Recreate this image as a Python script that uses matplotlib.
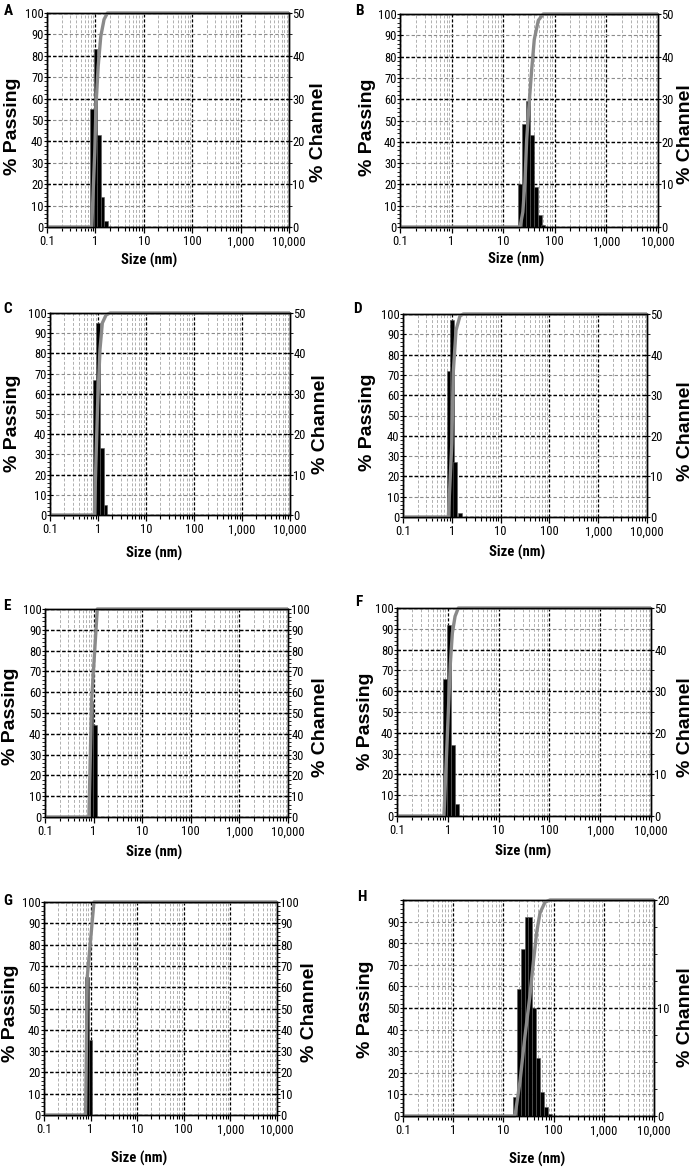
import matplotlib
matplotlib.use("Agg")
import numpy as np
import matplotlib.pyplot as plt
from matplotlib import font_manager
from matplotlib.ticker import FixedLocator, FixedFormatter, MultipleLocator, NullFormatter

# ---- data ----
# bars: channel centre size (nm) and % channel
A_size = [0.86, 1.0, 1.18, 1.4, 1.67]
A_channel = [27.5, 41.5, 21.5, 7.0, 1.5]
A_pass_size = [0.1, 0.84, 0.97, 1.03, 1.14, 1.29, 1.51, 1.77, 10000]
A_passing = [0, 0, 35, 57, 75, 89, 97, 100, 100]

B_size = [21.5, 25.6, 30.4, 36.2, 43.0, 51.0, 60.0]
B_channel = [10, 24.25, 29.5, 21.5, 9.5, 2.75, 0.5]
B_pass_size = [0.1, 21.2, 24, 26.4, 28.5, 32, 35.7, 40, 47.9, 59.8, 10000]
B_passing = [0, 0, 7, 21, 41, 59, 74, 88, 97, 100, 100]

C_size = [0.85, 1.01, 1.2, 1.43]
C_channel = [33.5, 47.5, 16.5, 2.5]
C_pass_size = [0.1, 0.84, 0.98, 1.1, 1.23, 1.47, 1.78, 10000]
C_passing = [0, 0, 54, 82, 95, 99, 100, 100]

D_size = [0.86, 1.01, 1.18, 1.45]
D_channel = [36, 48.5, 13.5, 1]
D_pass_size = [0.1, 0.85, 1.0, 1.07, 1.22, 1.47, 1.72, 10000]
D_passing = [0, 0, 36, 71, 92, 99, 100, 100]

E_size = [0.91, 1.07]
E_channel = [56, 44]
E_pass_size = [0.1, 0.8, 0.91, 1.19, 10000]
E_passing = [0, 0, 56, 100, 100]

F_size = [0.88, 1.04, 1.26, 1.52]
F_channel = [33, 46, 17, 3]
F_pass_size = [0.1, 0.84, 1.02, 1.12, 1.23, 1.39, 1.61, 10000]
F_passing = [0, 0, 49, 73, 88, 96, 100, 100]

G_size = [0.84, 1.0]
G_channel = [65, 35]
G_pass_size = [0.1, 0.78, 0.85, 1.18, 10000]
G_passing = [0, 0, 65, 100, 100]

H_size = [16.8, 20.2, 24.2, 28.8, 34.2, 40.7, 48.9, 58.7, 70.6, 83.6]
H_channel = [1.8, 11.8, 15.5, 18.4, 18.4, 10.0, 5.4, 2.2, 0.8, 0.2]
H_pass_size = [0.1, 17, 21.4, 26.9, 33.9, 39.4, 46, 53.6, 67.5, 84.8, 10000]
H_passing = [0, 0, 16, 37, 56, 71, 85, 94, 99, 100, 100]

x_ticks = [0.1, 1, 10, 100, 1000, 10000]
x_labels = ["0.1", "1", "10", "100", "1,000", "10,000"]

# ---- fonts: want something narrow like Arial Narrow ----
entries = font_manager.fontManager.ttflist
names = {f.name for f in entries}
narrow, stretch = None, "normal"
for nm in ["Liberation Sans Narrow", "Roboto Condensed", "Noto Sans Condensed",
           "Open Sans Condensed", "DejaVu Sans Condensed"]:
    if nm in names:
        narrow = nm
        break
if narrow is None:
    for pref in ["Liberation Sans", "Noto Sans", "Roboto", "Open Sans", "DejaVu Sans"]:
        if any(f.name == pref and "ondensed" in str(f.stretch) for f in entries):
            narrow, stretch = pref, "condensed"
            break
if narrow is None:
    narrow = "Liberation Sans"
plt.rcParams["font.family"] = [narrow, "DejaVu Sans"]
plt.rcParams["font.stretch"] = stretch
is_narrow = narrow != "Liberation Sans" or stretch != "normal"
tick_fs = 9 if is_narrow else 7.5
size_fs = 10.5 if is_narrow else 9.5

W, H = 693, 1169
fig = plt.figure(figsize=(W / 100, H / 100), dpi=100)

# (letter, size, channel, pass size, passing, channel max, channel minor, bar ratio,
#  axes box l,t,r,b px, letter xy, passing label xy, channel label xy, xlabel xy)
panels = [
    ("A", A_size, A_channel, A_pass_size, A_passing, 50, 5, 1.19,
     (47, 13, 289, 227), (4, 4), (12.5, 126), (318.5, 132), (149, 260)),
    ("B", B_size, B_channel, B_pass_size, B_passing, 50, 5, 1.19,
     (400, 14, 658, 227), (355, 4), (367.5, 127), (685.5, 134), (516, 259)),
    ("C", C_size, C_channel, C_pass_size, C_passing, 50, 5, 1.19,
     (50, 313, 290, 515), (3, 302), (12.5, 423), (320.5, 424), (154, 553)),
    ("D", D_size, D_channel, D_pass_size, D_passing, 50, 5, 1.19,
     (403, 314, 647, 517), (353, 302), (367.5, 422), (685.5, 431), (517, 552)),
    ("E", E_size, E_channel, E_pass_size, E_passing, 100, 2, 1.17,
     (45, 609, 288, 817), (3, 599), (10.5, 716), (320.5, 727), (154, 852)),
    ("F", F_size, F_channel, F_pass_size, F_passing, 50, 5, 1.19,
     (397, 608, 651, 816), (355, 595), (365.5, 721), (685.5, 727), (523, 851)),
    ("G", G_size, G_channel, G_pass_size, G_passing, 100, 2, 1.17,
     (44, 902, 277, 1115), (3, 894), (10.5, 1013), (309.5, 1012), (139, 1158)),
    ("H", H_size, H_channel, H_pass_size, H_passing, 20, 2.5, 1.19,
     (403, 900, 654, 1116), (357, 890), (365.5, 1009), (685.5, 1017), (537, 1159)),
]

dash_dark = (0, (2.5, 1.5))
dash_light = (0, (3, 2))

for (letter, size, channel, psize, passing, chmax, chminor, ratio,
     box, lxy, pxy, cxy, sxy) in panels:
    l, t, r, b = box
    ax = fig.add_axes([l / W, 1 - b / H, (r - l) / W, (b - t) / H])
    ax2 = ax.twinx()

    ax.set_xscale("log")
    ax.set_xlim(0.1, 10000)
    ax.set_ylim(0, 100)
    ax.xaxis.set_major_locator(FixedLocator(x_ticks))
    ax.xaxis.set_major_formatter(FixedFormatter(x_labels))
    minors = [m * d for d in [0.1, 1, 10, 100, 1000] for m in range(2, 10)]
    ax.xaxis.set_minor_locator(FixedLocator(minors))
    ax.xaxis.set_minor_formatter(NullFormatter())

    yt = list(range(0, 101, 10))
    ax.yaxis.set_major_locator(FixedLocator(yt))
    if letter == "H":
        ax.yaxis.set_major_formatter(FixedFormatter([str(v) for v in yt[:-1]] + [""]))
    else:
        ax.yaxis.set_major_formatter(FixedFormatter([str(v) for v in yt]))
    ax.yaxis.set_minor_locator(MultipleLocator(2))

    ax.grid(which="major", axis="x", color="black", ls=dash_dark, lw=0.9)
    ax.grid(which="minor", axis="x", color="#b0b0b0", ls=dash_light, lw=0.7)
    ax.grid(which="major", axis="y", color="#8c8c8c", ls=dash_light, lw=0.8)

    ax2.set_ylim(0, chmax)
    ax2.yaxis.set_major_locator(MultipleLocator(10))
    ax2.yaxis.set_minor_locator(MultipleLocator(chminor))
    ax2.set_axisbelow(True)
    ax2.grid(which="major", axis="y", color="black", ls=dash_dark, lw=1.0)

    s = np.array(size)
    k = np.sqrt(ratio)
    ax2.bar(s / k, channel, width=s * (k - 1 / k), align="edge",
            color="black", edgecolor="#5a5a5a", lw=0.4)
    ax2.plot(psize, passing, transform=ax.transData, color="#8a8a8a", lw=2.4,
             solid_capstyle="butt", clip_on=False)

    ax.tick_params(axis="x", which="major", direction="out", length=4, width=0.9,
                   labelsize=tick_fs, pad=2)
    ax.tick_params(axis="x", which="minor", direction="out", length=3, width=0.8)
    ax.tick_params(axis="y", which="major", direction="inout", length=5, width=0.8,
                   labelsize=tick_fs, pad=0)
    ax.tick_params(axis="y", which="minor", direction="out", length=2, width=0.6)
    ax2.tick_params(axis="y", which="major", direction="inout", length=5, width=0.8,
                    labelsize=tick_fs, pad=0)
    ax2.tick_params(axis="y", which="minor", direction="out", length=2.5, width=0.6)

    for sp in list(ax.spines.values()) + list(ax2.spines.values()):
        sp.set_color("black")
        sp.set_linewidth(1.0)

    fig.text(lxy[0] / W, 1 - lxy[1] / H, letter, ha="left", va="top",
             fontsize=11, fontweight="bold")
    fig.text(pxy[0] / W, 1 - pxy[1] / H, "% Passing", rotation=90, ha="center",
             va="center", fontsize=14, fontweight="bold", family="Liberation Sans",
             fontstretch="normal")
    fig.text(cxy[0] / W, 1 - cxy[1] / H, "% Channel", rotation=90, ha="center",
             va="center", fontsize=14, fontweight="bold", family="Liberation Sans",
             fontstretch="normal")
    fig.text(sxy[0] / W, 1 - sxy[1] / H, "Size (nm)", ha="center", va="center",
             fontsize=size_fs, fontweight="bold")

fig.savefig("out.png", dpi=100)
